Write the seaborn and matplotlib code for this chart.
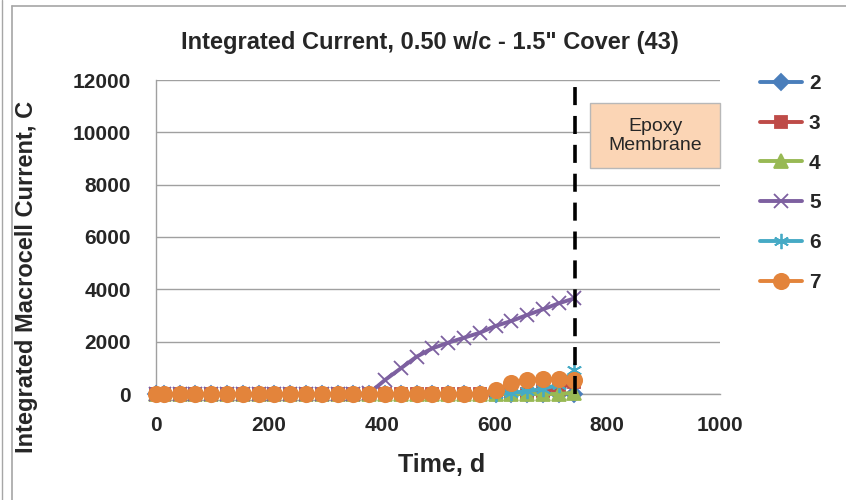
import matplotlib
matplotlib.use('Agg')

import matplotlib.pyplot as plt
from matplotlib.patches import Rectangle
from matplotlib.lines import Line2D
import seaborn as sns
import numpy as np

# data
days = [0, 14, 42, 70, 98, 126, 154, 182, 210, 238, 266, 294, 322, 350,
        378, 406, 434, 462, 490, 518, 546, 574, 602, 630, 658, 686, 714, 742]

zeros14 = [0] * 14
s2 = [0] * 28
s3 = [0] * 25 + [100, 200, 450]
s4 = [0] * 27 + [50]
s5 = zeros14 + [30, 535, 980, 1425, 1745, 1960, 2150, 2340,
                2600, 2790, 3020, 3235, 3465, 3655]
s6 = [0] * 23 + [50, 100, 200, 350, 900]
s7 = [0] * 22 + [150, 410, 535, 570, 570, 540]

labels = ['2', '3', '4', '5', '6', '7']
series = [s2, s3, s4, s5, s6, s7]
colors = ['#4A7EBB', '#BE4B48', '#98B954', '#7D60A0', '#46AAC5', '#E3843B']
markers = ['D', 's', '^', 'x', (6, 2, 0), 'o']
msizes = [8, 9, 10, 10, 11, 11]

membrane_day = 743

sns.set_style("white")
plt.rcParams['font.family'] = ['Liberation Sans', 'DejaVu Sans']

fig = plt.figure(figsize=(8.46, 5.0), dpi=100)
ax = fig.add_axes([156/846, 1 - 394/500, (720-156)/846, (394-80)/500])

handles = []
for lab, vals, c, m, ms in zip(labels, series, colors, markers, msizes):
    sns.lineplot(x=days, y=vals, ax=ax, color=c, marker=m, markersize=ms,
                 markeredgecolor=c, markeredgewidth=1.3, linewidth=2.8,
                 clip_on=False, zorder=3, legend=False)
    handles.append(Line2D([0], [0], color=c, marker=m, markersize=ms,
                          markeredgecolor=c, markeredgewidth=1.3, linewidth=2.8))

ax.axvline(membrane_day, ymin=0, ymax=1, color='black', linewidth=2.6,
           linestyle=(0, (5, 3)), zorder=4)

ax.set_xlim(0, 1000)
ax.set_ylim(0, 12000)
ax.set_xticks(np.arange(0, 1001, 200))
ax.set_yticks(np.arange(0, 12001, 2000))
ax.yaxis.grid(True, color='#A0A0A0', linewidth=1)
ax.xaxis.grid(False)
for side in ['top', 'right']:
    ax.spines[side].set_visible(False)
for side in ['left', 'bottom']:
    ax.spines[side].set_color('#A0A0A0')
    ax.spines[side].set_linewidth(1)
ax.tick_params(axis='both', length=0, labelsize=15)
ax.tick_params(axis='x', pad=16)
ax.tick_params(axis='y', pad=18)
for t in ax.get_xticklabels() + ax.get_yticklabels():
    t.set_fontweight('bold')

fig.text(430/846, 1 - 42/500, 'Integrated Current, 0.50 w/c - 1.5" Cover (43)',
         fontsize=17, fontweight='bold', ha='center', va='center')
ax.set_xlabel('Time, d', fontsize=18, fontweight='bold')
ax.xaxis.set_label_coords((442-156)/564, -(465-394)/314)
ax.xaxis.label.set_va('center')
ax.set_ylabel('Integrated Macrocell Current, C', fontsize=17, fontweight='bold')
ax.yaxis.set_label_coords((27-156)/564, (394-277)/314)
ax.yaxis.label.set_va('center')

# annotation box
ax.add_patch(Rectangle((770, 8636), 230, 2484, facecolor='#FBD5B5',
                       edgecolor='#B8B8B8', linewidth=1, clip_on=False, zorder=5))
ax.text(885, 9850, 'Epoxy\nMembrane', ha='center', va='center', fontsize=14,
        linespacing=1.15, zorder=6)

leg = fig.legend(handles, labels, loc='upper left',
                 bbox_to_anchor=(760/846, 1 - 74/500), frameon=False,
                 prop={'size': 15, 'weight': 'bold'}, handlelength=2.0,
                 handletextpad=0.35, labelspacing=1.0, borderpad=0,
                 borderaxespad=0)

# chart area frame
fig.add_artist(Line2D([12/846, 12/846], [0, 1 - 6/500], color='#A6A6A6',
                      linewidth=1.2, transform=fig.transFigure))
fig.add_artist(Line2D([12/846, 1], [1 - 6/500, 1 - 6/500], color='#A6A6A6',
                      linewidth=1.2, transform=fig.transFigure))
fig.add_artist(Line2D([1.5/846, 1.5/846], [0, 1], color='#A6A6A6',
                      linewidth=1, transform=fig.transFigure))

fig.savefig('out.png', dpi=100)
